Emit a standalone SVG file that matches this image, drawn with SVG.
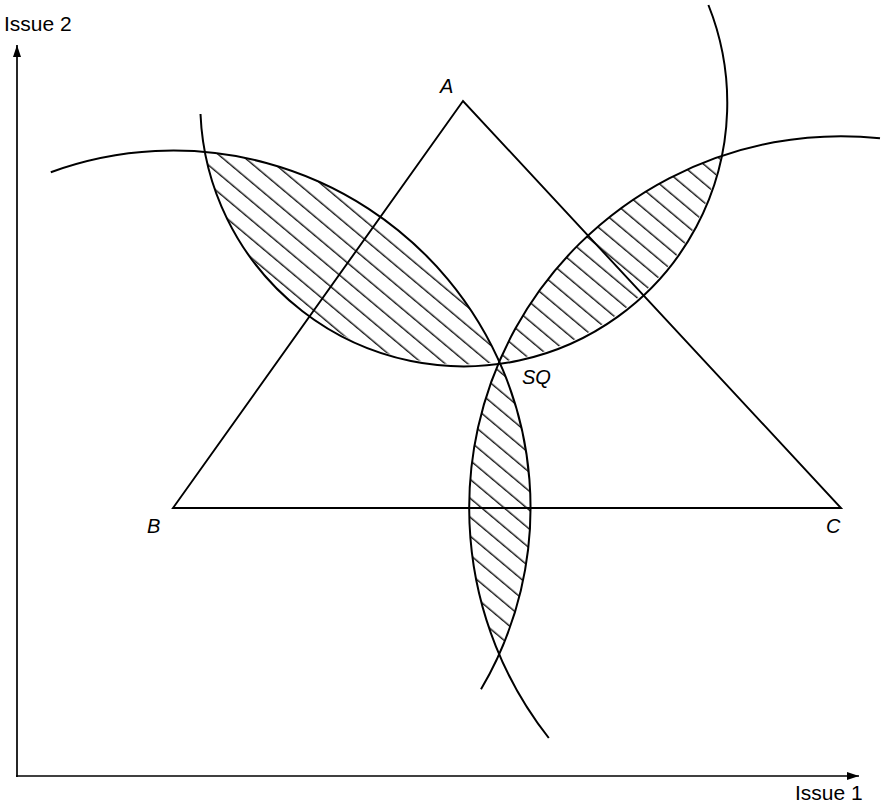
<svg xmlns="http://www.w3.org/2000/svg" width="882" height="805" viewBox="0 0 882 805">
<style>
.curve{fill:none;stroke:#000;stroke-width:2}
.edge{fill:none;stroke:#000;stroke-width:1.9}
.axis{fill:none;stroke:#000;stroke-width:1.7}
.lbl{font-family:"Liberation Sans",Arial,sans-serif;font-size:20px;font-style:italic;fill:#000}
.ax{font-family:"Liberation Sans",Arial,sans-serif;font-size:21px;fill:#000}
.win{fill:url(#hatch);stroke:none}
</style>
<defs>
<pattern id="hatch" patternUnits="userSpaceOnUse" width="14.5" height="14.5" patternTransform="rotate(40)">
<line x1="0" y1="7" x2="14.5" y2="7" stroke="#000" stroke-width="1.3"/>
</pattern>
<marker id="arrow" viewBox="0 0 12 8" refX="12" refY="4" markerWidth="12" markerHeight="8" markerUnits="userSpaceOnUse" orient="auto">
<path d="M0,0 L12,4 L0,8 Z" fill="#000"/>
</marker>
</defs>
<rect width="882" height="805" fill="#fff"/>
<g id="winsets">
<path id="win-AB" class="win" d="M204.6,152.2 A357.2,357.2 0 0 1 499,362 A263.5,263.5 0 0 1 204.6,152.2 Z"/>
<path id="win-AC" class="win" d="M499,362 A263.5,263.5 0 0 0 720.7,156 A371.9,371.9 0 0 0 499,362 Z"/>
<path id="win-BC" class="win" d="M499,362 A357.2,357.2 0 0 1 499,654 A371.9,371.9 0 0 1 499,362 Z"/>
</g>
<g id="axes">
<line class="axis" x1="17" y1="777" x2="17" y2="45" marker-end="url(#arrow)"/>
<line class="axis" x1="16" y1="776" x2="859" y2="776" marker-end="url(#arrow)"/>
</g>
<g id="triangle">
<path class="edge" d="M463,101 L173,508 L841,508 Z"/>
</g>
<g id="curves">
<path id="circle-A" class="curve" d="M200.5,114 A263.5,263.5 0 1 0 708.4,5"/>
<path id="circle-B" class="curve" d="M50.8,172.3 A357.2,357.2 0 0 1 481,689.3"/>
<path id="circle-C" class="curve" d="M880,138.2 A371.9,371.9 0 0 0 548.8,738"/>
</g>
<g id="labels">
<text class="ax" x="4" y="31">Issue 2</text>
<text class="ax" x="795" y="800">Issue 1</text>
<text id="label-A" class="lbl" x="440" y="93">A</text>
<text id="label-B" class="lbl" x="147" y="533">B</text>
<text id="label-C" class="lbl" x="826" y="533">C</text>
<text id="label-SQ" class="lbl" x="522" y="384">SQ</text>
</g>
</svg>
